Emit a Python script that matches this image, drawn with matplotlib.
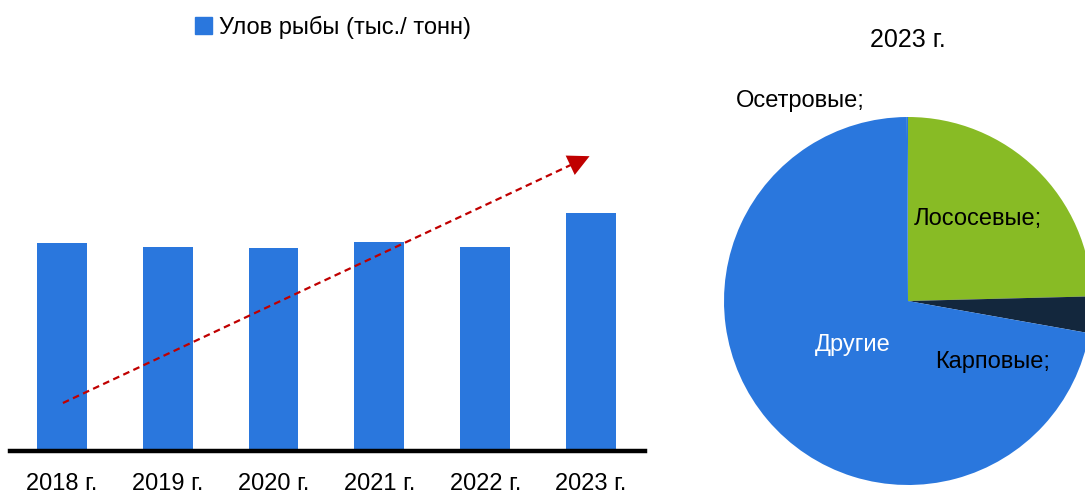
import numpy as np
import matplotlib
matplotlib.use('Agg')
import matplotlib.pyplot as plt
from matplotlib.patches import Patch

plt.rcParams['font.family'] = ['Liberation Sans Narrow', 'Liberation Sans', 'DejaVu Sans']

# catch by year (bar heights, relative units)
years = ['2018 г.', '2019 г.', '2020 г.', '2021 г.', '2022 г.', '2023 г.']
catch = [208, 204, 203, 209, 204, 238]

# 2023 structure, % (clockwise from top)
species = ['Лососевые;', 'Карповые;', 'Другие', 'Осетровые;']
shares = [24.6, 3.2, 72.1, 0.1]

blue = '#2A77DD'
green = '#88BB25'
navy = '#13273D'
red = '#C00000'

W, H = 1085, 497
fig = plt.figure(figsize=(W / 100, H / 100), dpi=100)

# bar chart
ax = fig.add_axes([10 / W, (H - 451) / H, 635 / W, 340 / H])
x = np.arange(len(years))
ax.bar(x, catch, width=0.47, color=blue, zorder=2)
ax.set_xlim(-0.49, 5.51)
ax.set_ylim(0, 340)
ax.set_xticks(x)
ax.set_xticklabels(years, fontsize=17)
ax.tick_params(axis='x', length=0, pad=16)
ax.set_yticks([])
for s in ['top', 'right', 'left']:
    ax.spines[s].set_visible(False)
ax.spines['bottom'].set_linewidth(3.2)
ax.spines['bottom'].set_color('black')

# trend arrow
x0, y0 = 0.01, 48
x1, y1 = 5.01, 296
t = 0.965
ax.plot([x0, x0 + (x1 - x0) * t], [y0, y0 + (y1 - y0) * t],
        ls=(0, (3, 2)), color=red, lw=1.6, zorder=3)
ax.annotate('', xy=(x1, y1), xytext=(x0 + (x1 - x0) * 0.95, y0 + (y1 - y0) * 0.95),
            arrowprops=dict(arrowstyle='-|>,head_length=0.7,head_width=0.35',
                            mutation_scale=22, color=red, lw=0),
            zorder=4)

fig.legend(handles=[Patch(color=blue, label='Улов рыбы (тыс./ тонн)')],
           loc='center', bbox_to_anchor=(333 / W, 1 - 27 / H), frameon=False,
           fontsize=17, handlelength=0.7, handleheight=0.7, handletextpad=0.3)

# pie chart
R = 184
cx, cy = 908, 301
pax = fig.add_axes([(cx - R) / W, (H - cy - R) / H, 2 * R / W, 2 * R / H])
pax.pie(shares, colors=[green, navy, blue, blue], startangle=90, counterclock=False,
        radius=1, wedgeprops=dict(linewidth=0))
pax.set_xlim(-1, 1)
pax.set_ylim(-1, 1)
pax.set_aspect('equal')
pax.axis('off')

label_pos = [(0.38, 0.446), (0.457, -0.33), (-0.30, -0.24), (-0.587, 1.087)]
label_col = ['black', 'black', 'white', 'black']
for name, (lx, ly), c in zip(species, label_pos, label_col):
    pax.text(lx, ly, name, ha='center', va='center', fontsize=17, color=c)

fig.text(cx / W, 1 - 40 / H, '2023 г.', ha='center', va='center', fontsize=18)

fig.savefig('out.png', dpi=100)
